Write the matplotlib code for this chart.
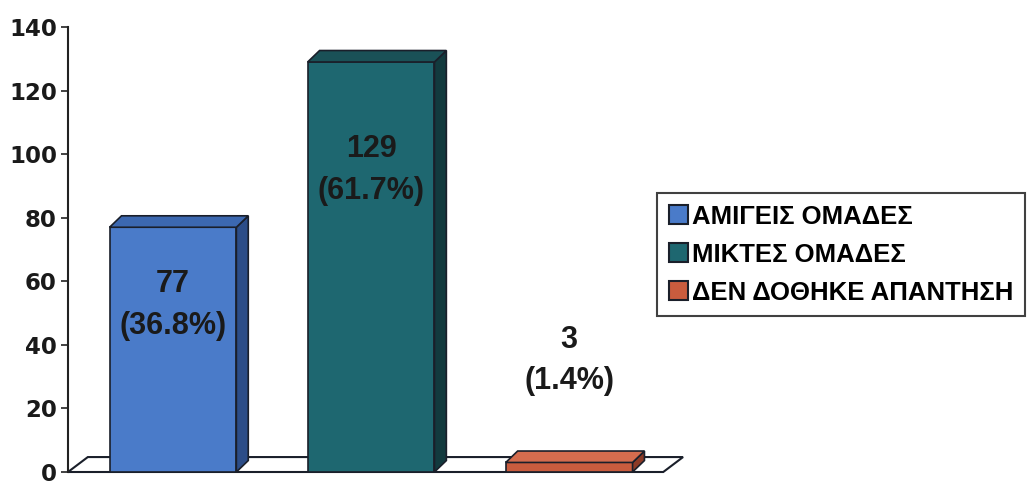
import matplotlib
matplotlib.use('Agg')
import matplotlib.pyplot as plt
from matplotlib.patches import Polygon, Patch

# data
categories = ['ΑΜΙΓΕΙΣ ΟΜΑΔΕΣ', 'ΜΙΚΤΕΣ ΟΜΑΔΕΣ', 'ΔΕΝ ΔΟΘΗΚΕ ΑΠΑΝΤΗΣΗ']
values = [77, 129, 3]
percents = ['36.8%', '61.7%', '1.4%']
label_y = [52.5, 95, 35]
yticks = [0, 20, 40, 60, 80, 100, 120, 140]

front_colors = ['#4a7bc9', '#1e6770', '#c95c3e']
side_colors = ['#2c4d88', '#123a3e', '#8c3a26']
top_colors = ['#3c68b0', '#1a5157', '#d46c4e']
edge = '#1a1f2a'

plt.rcParams['font.family'] = ['Liberation Sans', 'DejaVu Sans']
plt.rcParams['font.weight'] = 'bold'

W, H = 1029, 482
fig = plt.figure(figsize=(W / 100, H / 100), dpi=100)
ax = fig.add_axes([68 / W, (H - 472) / H, (690 - 68) / W, (472 - 27) / H])
ax.set_xlim(-0.53, 2.61)
ax.set_ylim(0, 140)

bw = 0.64      # bar width
dx, dy = 0.06, 3.6        # bar depth
fdx, fdy = 0.10, 4.7      # floor depth

# floor
floor = Polygon([(-0.53, 0), (2.475, 0), (2.475 + fdx, fdy), (-0.53 + fdx, fdy)],
                closed=True, facecolor='white', edgecolor=edge, lw=1.5, clip_on=False)
ax.add_patch(floor)

for i, v in enumerate(values):
    x0 = i - bw / 2
    x1 = i + bw / 2
    front = Polygon([(x0, 0), (x1, 0), (x1, v), (x0, v)], closed=True,
                    facecolor=front_colors[i], edgecolor=edge, lw=1.2, clip_on=False)
    side = Polygon([(x1, 0), (x1 + dx, dy), (x1 + dx, v + dy), (x1, v)], closed=True,
                   facecolor=side_colors[i], edgecolor=edge, lw=1.2, clip_on=False)
    top = Polygon([(x0, v), (x1, v), (x1 + dx, v + dy), (x0 + dx, v + dy)], closed=True,
                  facecolor=top_colors[i], edgecolor=edge, lw=1.2, clip_on=False)
    for p in (front, side, top):
        ax.add_patch(p)
    ax.text(i, label_y[i], f'{v}\n({percents[i]})', ha='center', va='center',
            fontsize=22, fontweight='bold', color='#1a1a1a', linespacing=1.5)

ax.set_yticks(yticks)
ax.set_xticks([])
for s in ('top', 'right', 'bottom'):
    ax.spines[s].set_visible(False)
ax.spines['left'].set_color('#222222')
ax.spines['left'].set_linewidth(1.5)
ax.tick_params(axis='y', length=5, width=1.2, color='#222222', pad=3,
               labelcolor='#1a1a1a')
for t in ax.get_yticklabels():
    t.set_fontfamily('DejaVu Sans')
    t.set_fontweight('bold')
    t.set_fontsize(16.5)

handles = [Patch(facecolor=c, edgecolor=edge, lw=1.5) for c in front_colors]
leg = fig.legend(handles, categories, loc='upper left',
                 bbox_to_anchor=(657 / W, 1 - 193 / H), bbox_transform=fig.transFigure,
                 frameon=True, fancybox=False, borderaxespad=0, borderpad=0.45,
                 handlelength=0.75, handleheight=0.75, handletextpad=0.15,
                 labelspacing=0.55, prop={'size': 18.5, 'weight': 'bold'})
leg.get_frame().set_edgecolor('#111111')
leg.get_frame().set_linewidth(1.5)

fig.savefig('out.png', dpi=100)
